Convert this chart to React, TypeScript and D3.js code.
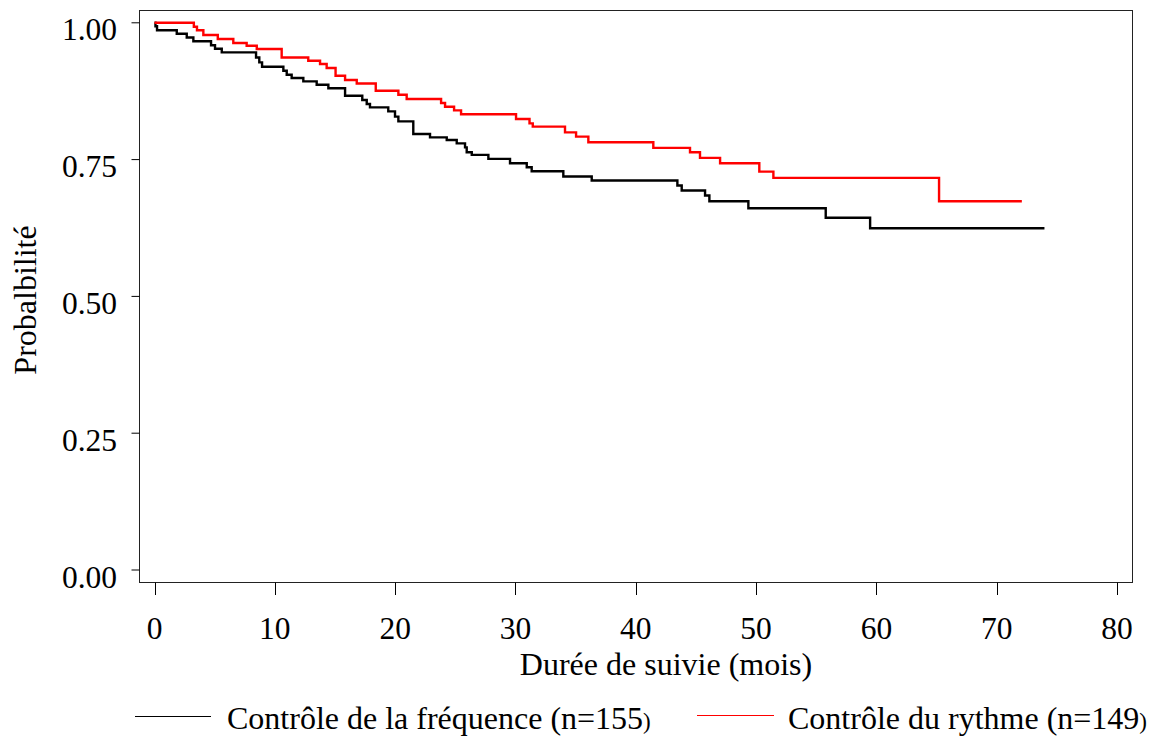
import React from "react";
import * as d3 from "d3";

// Kaplan-Meier steps: [time (months), survival after the event]
const frequenceSteps: [number, number][] = [
  [0, 1.0], [0.08, 0.9936], [0.21, 0.9863], [1.85, 0.9799], [2.68, 0.9732], [3.23, 0.9662],
  [4.7, 0.9589], [5.03, 0.9526], [5.59, 0.946], [8.44, 0.9367], [8.71, 0.9276], [8.94, 0.9197],
  [10.71, 0.9124], [10.99, 0.9051], [11.4, 0.8991], [12.37, 0.8929], [13.48, 0.8869], [14.45, 0.8805],
  [15.84, 0.8668], [17.27, 0.8589], [17.64, 0.8516], [17.91, 0.8454], [19.43, 0.8381], [19.99, 0.8285],
  [20.27, 0.8199], [21.51, 0.7969], [22.9, 0.7907], [24.29, 0.7859], [25.12, 0.7797], [25.81, 0.7724],
  [25.95, 0.7633], [26.37, 0.7586], [27.75, 0.7513], [29.55, 0.7432], [30.94, 0.7359], [31.35, 0.7286],
  [33.98, 0.719], [36.34, 0.7117], [43.46, 0.7026], [43.82, 0.6934], [45.76, 0.6843], [46.12, 0.6739],
  [49.36, 0.6611], [55.79, 0.6436], [59.48, 0.6246], [73.97, 0.6246],
];

const rythmeSteps: [number, number][] = [
  [0, 1.0], [3.27, 0.9927], [3.53, 0.9863], [4.06, 0.9776], [5.26, 0.9703], [6.55, 0.963],
  [7.66, 0.958], [8.5, 0.952], [10.57, 0.9367], [12.78, 0.9307], [13.76, 0.9246], [14.31, 0.9173],
  [15.05, 0.9033], [15.84, 0.8954], [16.81, 0.8892], [18.39, 0.8759], [20.27, 0.8686], [20.96, 0.8608],
  [23.82, 0.8535], [24.15, 0.8467], [24.9, 0.84], [25.48, 0.833], [30.05, 0.8243], [31.17, 0.8162],
  [31.44, 0.8102], [34.12, 0.7998], [35.04, 0.792], [36.06, 0.7816], [41.46, 0.7714], [44.51, 0.7633],
  [45.34, 0.7531], [47.01, 0.7432], [50.27, 0.7281], [51.44, 0.7166], [65.21, 0.6739], [72.09, 0.6739],
];

const xTicks = [0, 10, 20, 30, 40, 50, 60, 70, 80];
const yTicks = [0, 0.25, 0.5, 0.75, 1.0];

const seriesNames = ["Contrôle de la fréquence (n=155", "Contrôle du rythme (n=149"];
const seriesColors = ["#000000", "#ff0000"];

const xLabel = "Durée de suivie (mois)";
const yLabel = "Probalbilité";

const W = 1160;
const H = 736;
const FONT = "'Liberation Serif', 'Times New Roman', serif";

export default function App() {
  const x = d3.scaleLinear().domain([0, 80]).range([154.5, 1117]);
  const y = d3.scaleLinear().domain([0, 1]).range([570, 22.8]);

  const line = d3
    .line<[number, number]>()
    .x((d) => x(d[0]))
    .y((d) => y(d[1]))
    .curve(d3.curveStepAfter);

  const box = { x0: 139.5, y0: 10.5, x1: 1132.5, y1: 582.5 };

  return (
    <svg
      width={W}
      height={H}
      style={{ position: "absolute", left: 0, top: 0, background: "#fff" }}
      fontFamily={FONT}
    >
      <rect x={0} y={0} width={W} height={H} fill="#fff" />
      <rect
        x={box.x0}
        y={box.y0}
        width={box.x1 - box.x0}
        height={box.y1 - box.y0}
        fill="none"
        stroke="#222"
        strokeWidth={1}
      />
      {/* y axis ticks */}
      {yTicks.map((t) => (
        <g key={"y" + t}>
          <line x1={131.5} x2={box.x0} y1={y(t)} y2={y(t)} stroke="#000" strokeWidth={1} />
          <text x={117} y={y(t) + 17.5} textAnchor="end" fontSize={31.5} fill="#000">
            {d3.format(".2f")(t)}
          </text>
        </g>
      ))}
      {/* x axis ticks */}
      {xTicks.map((t) => (
        <g key={"x" + t}>
          <line x1={Math.round(x(t)) + 0.5} x2={Math.round(x(t)) + 0.5} y1={box.y1} y2={595} stroke="#000" strokeWidth={1} />
          <text x={x(t)} y={639} textAnchor="middle" fontSize={31.5} fill="#000">
            {t}
          </text>
        </g>
      ))}
      <text x={666} y={675} textAnchor="middle" fontSize={32} fill="#000">
        {xLabel}
      </text>
      <text
        transform={`translate(36, 300) rotate(-90)`}
        textAnchor="middle"
        fontSize={32}
        fill="#000"
      >
        {yLabel}
      </text>

      {/* curves */}
      <path d={line(frequenceSteps) || ""} fill="none" stroke={seriesColors[0]} strokeWidth={2.4} />
      <path d={line(rythmeSteps) || ""} fill="none" stroke={seriesColors[1]} strokeWidth={2.4} />

      {/* legend */}
      <line x1={135} x2={211} y1={716.5} y2={716.5} stroke={seriesColors[0]} strokeWidth={1} />
      <text x={227} y={729} fontSize={32} fill="#000">
        {seriesNames[0]}
        <tspan fontSize={23}>)</tspan>
      </text>
      <line x1={697} x2={774} y1={715.5} y2={715.5} stroke={seriesColors[1]} strokeWidth={1} />
      <text x={788} y={729} fontSize={32} fill="#000">
        {seriesNames[1]}
        <tspan fontSize={23}>)</tspan>
      </text>
    </svg>
  );
}
